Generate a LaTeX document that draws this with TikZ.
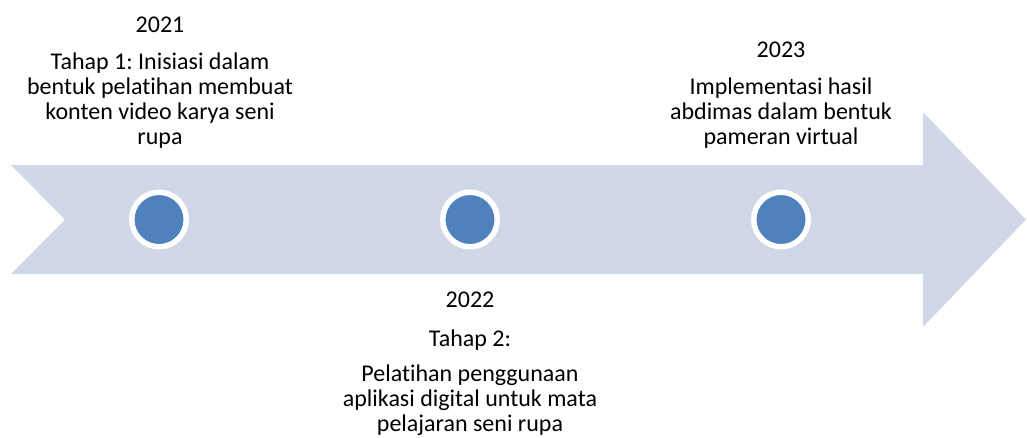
\documentclass[tikz,border=0pt]{standalone}
\usepackage{fontspec}
\setmainfont{Carlito}[Ligatures=NoCommon]
\frenchspacing

\definecolor{band}{HTML}{D0D8E8}
\definecolor{dotblue}{HTML}{4F81BD}

\begin{document}
\begin{tikzpicture}[x=0.75pt,y=-0.75pt,
        dot/.style={circle,fill=dotblue,draw=white,line width=4.1pt,
                    minimum size=40.9pt,inner sep=0pt},
        txt/.style={align=center,inner sep=0pt,anchor=north,
                    font=\fontsize{18}{18.75}\selectfont}]
    \useasboundingbox (0,0) rectangle (1027,437);

    % timeline arrow with notched tail
    \fill[band] (11,165)--(923,165)--(923,112)--(1026,219.5)--(923,327)
                --(923,274)--(11,274)--(65,219.5)--cycle;

    \node[dot] (d1) at(159,219.5) {};
    \node[dot] (d2) at(470,219.5) {};
    \node[dot] (d3) at(781,219.5) {};

    \node[txt] (t1) at(160,16.5) {2021\\[9pt]Tahap 1: Inisiasi dalam\\
        bentuk pelatihan membuat\\konten video karya seni\\rupa};
    \node[txt] (t2) at(470,292) {2022\\[10.5pt]Tahap 2:\\[7pt]
        Pelatihan penggunaan\\aplikasi digital untuk mata\\pelajaran seni rupa};
    \node[txt] (t3) at(781,41.5) {2023\\[9pt]Implementasi hasil\\
        abdimas dalam bentuk\\pameran virtual};
\end{tikzpicture}
\end{document}
